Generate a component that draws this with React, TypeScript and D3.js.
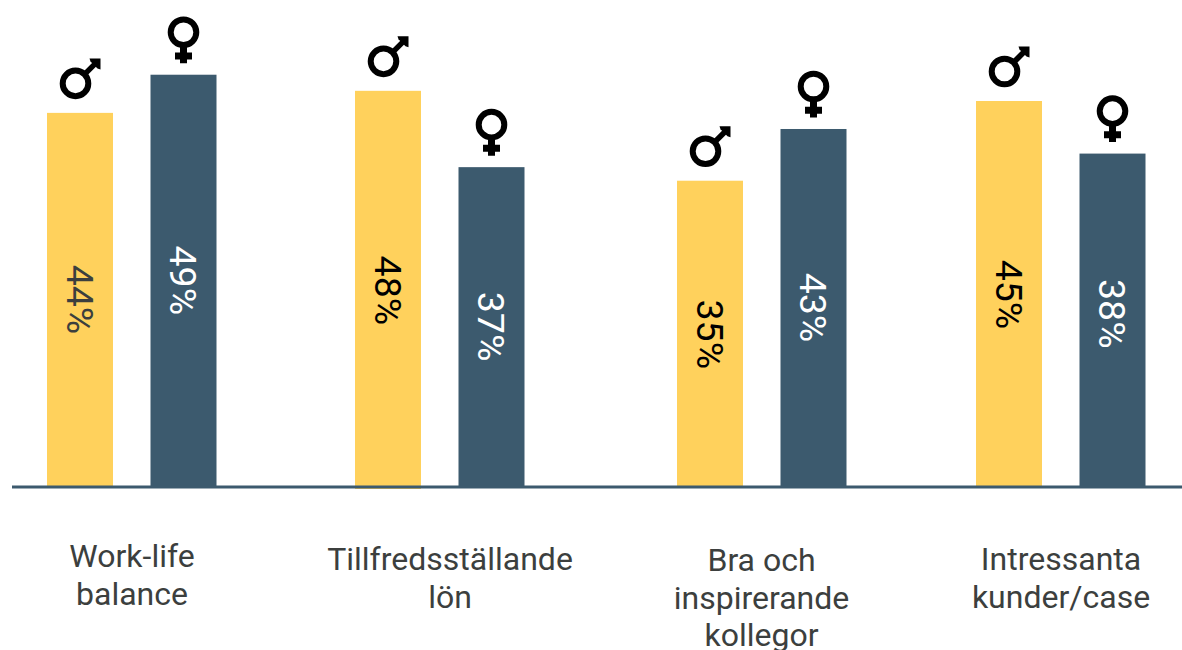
import React, { useEffect, useRef } from 'react';
import * as d3 from 'd3';

// Data
const categories = ['Work-life balance', 'Tillfredsställande lön', 'Bra och inspirerande kollegor', 'Intressanta kunder/case'];
const categoryLines = [['Work-life', 'balance'], ['Tillfredsställande', 'lön'], ['Bra och', 'inspirerande', 'kollegor'], ['Intressanta', 'kunder/case']];
const series = ['men', 'women'];
const menLabels = [44, 48, 35, 45];
const womenLabels = [49, 37, 43, 38];
// the drawn bars are not quite proportional to their printed labels
const menBars = [44, 46.6, 36, 45.4];
const womenBars = [48.5, 37.6, 42.1, 39.2];

const WIDTH = 1182;
const HEIGHT = 650;
const BASE_Y = 486;
const BAR_W = 66;
// hand placed offsets of the original layout
const groupNudge = [0, -2, 10, -1];
const labelCentre = [132, 450, 761.5, 1061];
const labelBaseline = [567, 570, 571, 570];
const menValueNudge = [0, 2, 1, 1];
const womenValueNudge = [0, 0, 0, -6];

function App() {
  const svgRef = useRef<SVGSVGElement>(null);

  useEffect(() => {
    const svg = d3.select(svgRef.current);
    svg.selectAll('*').remove();

    const x0 = d3.scalePoint<string>().domain(categories).range([47, 977]);
    const x1 = d3.scalePoint<string>().domain(series).range([0, 103.5]);
    const y = d3.scaleLinear().domain([0, 50]).range([BASE_Y, BASE_Y - 424]);

    const rows = categories.flatMap((c, i) => [
      { i, c, s: 'men', bar: menBars[i], label: menLabels[i], nudge: menValueNudge[i] },
      { i, c, s: 'women', bar: womenBars[i], label: womenLabels[i], nudge: womenValueNudge[i] },
    ]);
    const left = (d) => x0(d.c) + groupNudge[d.i] + x1(d.s);

    // bars
    svg.selectAll('rect.bar').data(rows).enter().append('rect')
      .attr('class', 'bar')
      .attr('x', left)
      .attr('y', (d) => y(d.bar))
      .attr('width', BAR_W)
      .attr('height', (d) => BASE_Y + (d.i === 1 && d.s === 'men' ? 3 : 0) - y(d.bar))
      .attr('fill', (d) => (d.s === 'men' ? '#ffd15c' : '#3c5a6e'));

    // axis line sits on top of the bars
    svg.append('line')
      .attr('x1', 12).attr('x2', WIDTH)
      .attr('y1', BASE_Y + 1).attr('y2', BASE_Y + 1)
      .attr('stroke', '#3c5a6e').attr('stroke-width', 3);

    // rotated value labels
    svg.selectAll('text.value').data(rows).enter().append('text')
      .attr('class', 'value')
      .attr('transform', (d) => `translate(${left(d) + BAR_W / 2},${(y(d.bar) + BASE_Y) / 2 + d.nudge}) rotate(90)`)
      .attr('text-anchor', 'middle')
      .attr('dy', '0.35em')
      .attr('font-family', 'Roboto')
      .attr('font-size', 37.5)
      .attr('fill', (d) => (d.s === 'women' ? '#fff' : d.i === 0 ? '#3c3f3e' : '#000'))
      .text((d) => `${d.label}%`);

    // gender icons
    const icons = svg.selectAll('g.icon').data(rows).enter().append('g')
      .attr('class', 'icon')
      .attr('transform', (d) => {
        const cx = left(d) + BAR_W / 2;
        return d.s === 'men'
          ? `translate(${cx - 4.5},${y(d.bar) - 29.5})`
          : `translate(${cx},${y(d.bar) - 42.5})`;
      });

    icons.append('circle')
      .attr('r', 12.8)
      .attr('fill', 'none')
      .attr('stroke', '#000')
      .attr('stroke-width', 6);

    icons.filter((d) => d.s === 'men').append('path')
      .attr('d', 'M8 -8L21 -21')
      .attr('stroke', '#000')
      .attr('stroke-width', 5.5)
      .attr('fill', 'none');
    icons.filter((d) => d.s === 'men').append('path')
      .attr('d', 'M14 -25L25 -25L25 -14L22 -15L15 -22Z')
      .attr('fill', '#000');

    icons.filter((d) => d.s === 'women').append('path')
      .attr('d', 'M0 14V31M-8.5 23.7H8.5')
      .attr('stroke', '#000')
      .attr('stroke-width', 7)
      .attr('fill', 'none');

    // category labels
    categories.forEach((c, i) => {
      const t = svg.append('text')
        .attr('text-anchor', 'middle')
        .attr('font-family', 'Roboto')
        .attr('font-size', 32)
        .attr('fill', '#3c3f3e');
      categoryLines[i].forEach((line, k) => {
        t.append('tspan')
          .attr('x', labelCentre[i])
          .attr('y', labelBaseline[i] + k * 37.5)
          .text(line);
      });
    });
  }, []);

  return (
    <svg
      ref={svgRef}
      width={WIDTH}
      height={HEIGHT}
      style={{ position: 'absolute', left: 0, top: 0, background: '#fff' }}
    />
  );
}

export default App;
